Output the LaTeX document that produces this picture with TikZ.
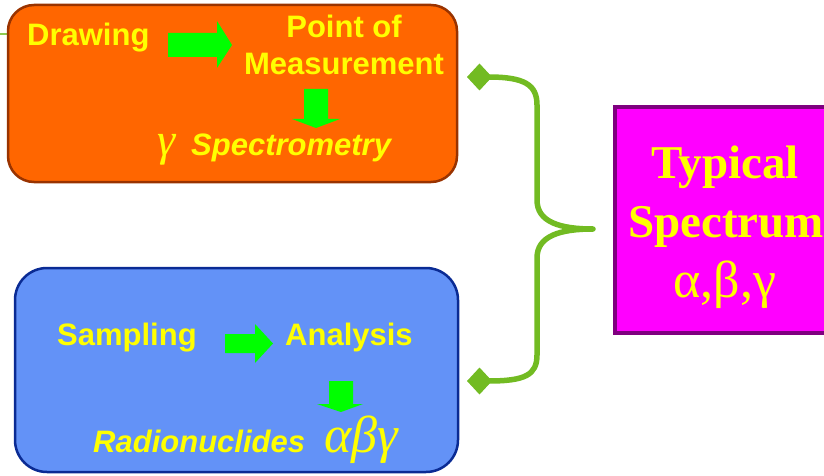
\documentclass[tikz,border=0pt]{standalone}
\usepackage{fontspec}
\setmainfont{Liberation Serif}
\newfontfamily\arialfont{Liberation Sans}
\usetikzlibrary{arrows.meta}
\definecolor{boxorange}{HTML}{FF6600}
\definecolor{orangeedge}{HTML}{993300}
\definecolor{boxblue}{HTML}{6392F7}
\definecolor{blueedge}{HTML}{0A2B94}
\definecolor{boxmagenta}{HTML}{FF00FF}
\definecolor{magentaedge}{HTML}{7F007F}
\definecolor{arrowgreen}{HTML}{00FF00}
\definecolor{bracegreen}{HTML}{72BB22}
\definecolor{txtyellow}{HTML}{FFFF00}
\begin{document}
\begin{tikzpicture}[x=1pt,y=-1pt,
	txt/.style={inner sep=0pt,text=txtyellow,font=\arialfont\bfseries\fontsize{31}{31}\selectfont},
	big/.style={inner sep=0pt,text=txtyellow,anchor=base},
	panel/.style={line width=2.5pt,rounded corners=#1}]
	\useasboundingbox (0,0) rectangle (824,476);
	\clip (0,0) rectangle (824,476);
	\draw[bracegreen!80,line width=1.5pt] (0,34) -- (20,34);
	% the two panels and the result box
	\node[panel=26pt,fill=boxorange,draw=orangeedge,minimum width=449pt,minimum height=177pt] (orange) at (232.5,93.5) {};
	\node[panel=32pt,fill=boxblue,draw=blueedge,minimum width=443pt,minimum height=204pt] (blue) at (236.5,370) {};
	\node[fill=boxmagenta,draw=magentaedge,line width=3.5pt,minimum width=220pt,minimum height=226pt] (result) at (725,220) {};
	% orange panel
	\node[txt,anchor=base west] (drawing) at (27,46) {Drawing};
	\node[txt,anchor=base] (point) at (344,38) {Point of};
	\node[txt,anchor=base] (meas) at (344,75) {Measurement};
	\node[txt,anchor=base west] (gamma) at (157,155) {\rmfamily\mdseries\itshape\fontsize{46}{46}\selectfont γ};
	\node[txt,anchor=base west] (spectro) at (191,155) {\itshape Spectrometry};
	\fill[arrowgreen] (168,33) -- (217,33) -- (217,21) -- (232,45) -- (217,68) -- (217,57) -- (168,57) -- cycle;
	\fill[arrowgreen] (304,89) -- (328,89) -- (328,119) -- (340,119) -- (316,128) -- (292,119) -- (304,119) -- cycle;
	% blue panel
	\node[txt,anchor=base west] (sampling) at (57,345) {Sampling};
	\node[txt,anchor=base west] (analysis) at (285,345) {Analysis};
	\node[txt,anchor=base west] (radio) at (93,452) {\itshape Radionuclides};
	\node[txt,anchor=base west] (abg) at (324,452) {\rmfamily\mdseries\itshape\fontsize{52}{52}\selectfont αβγ};
	\fill[arrowgreen] (225,334) -- (255,334) -- (255,324) -- (273,343.5) -- (255,363) -- (255,353) -- (225,353) -- cycle;
	\fill[arrowgreen] (329,381) -- (353,381) -- (353,404) -- (363,404) -- (341,412) -- (317,404) -- (329,404) -- cycle;
	% result box
	\node[big,font=\bfseries\fontsize{47}{47}\selectfont] (typical) at (725,178) {Typical};
	\node[big,font=\bfseries\fontsize{47}{47}\selectfont] (spectrum) at (726,237) {Spectrum};
	\node[big,font=\fontsize{52}{52}\selectfont] (greek) at (725,297) {α,β,γ};
	% brace
	\coordinate (bt) at (467,77);
	\coordinate (bb) at (467,381);
	\coordinate (tip) at (593,229);
	\draw[bracegreen,line width=5.5pt,line join=round,{Diamond[length=25pt,width=27pt]}-{Diamond[length=25pt,width=27pt]}]
		(bt) .. controls (525,77) and (537,85) .. (537,105) -- (537,200)
		.. controls (537,222) and (560,229) .. (tip)
		.. controls (560,229) and (537,236) .. (537,258) -- (537,355)
		.. controls (537,375) and (525,381) .. (bb);
\end{tikzpicture}
\end{document}
